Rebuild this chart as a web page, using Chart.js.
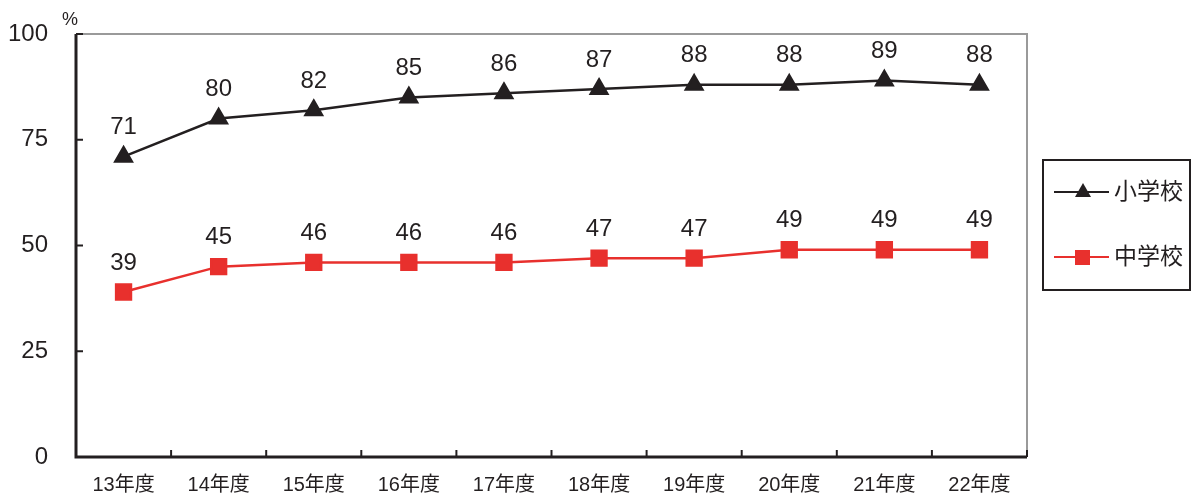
<!DOCTYPE html>
<html>
<head>
<meta charset="utf-8">
<script src="https://cdn.jsdelivr.net/npm/chart.js@4"></script>
<style>
  html, body { margin: 0; padding: 0; background: #fff; }
  #wrap { width: 1192px; height: 495px; position: relative; }
</style>
</head>
<body>
<div id="wrap"><canvas id="rateChart" width="1192" height="495"></canvas></div>
<script>
// chart values
const years = ['13年度', '14年度', '15年度', '16年度', '17年度', '18年度', '19年度', '20年度', '21年度', '22年度'];
const elementary = [71, 80, 82, 85, 86, 87, 88, 88, 89, 88];
const juniorHigh = [39, 45, 46, 46, 46, 47, 47, 49, 49, 49];
const yTicks = [0, 25, 50, 75, 100];
const seriesNames = ['小学校', '中学校'];

const FONT = "'Liberation Sans', 'Noto Sans CJK JP', Arial, sans-serif";
const RED = '#e8302d';

// frame, inward ticks, value labels, legend box
const decorations = {
    id: 'decorations',
    afterDatasetsDraw(chart) {
        const ctx = chart.ctx;
        const area = chart.chartArea;
        const x = chart.scales.x;
        const y = chart.scales.y;

        ctx.save();
        // top and right border (grey)
        ctx.strokeStyle = '#9a9a9a';
        ctx.lineWidth = 2;
        ctx.beginPath();
        ctx.moveTo(area.left, area.top);
        ctx.lineTo(area.right, area.top);
        ctx.lineTo(area.right, area.bottom);
        ctx.stroke();

        // left and bottom axes (black)
        ctx.strokeStyle = '#231f20';
        ctx.lineWidth = 3;
        ctx.beginPath();
        ctx.moveTo(area.left, area.top);
        ctx.lineTo(area.left, area.bottom);
        ctx.lineTo(area.right, area.bottom);
        ctx.stroke();

        // y tick marks pointing inward
        ctx.lineWidth = 2;
        yTicks.forEach(v => {
            const py = y.getPixelForValue(v);
            ctx.beginPath();
            ctx.moveTo(area.left, py);
            ctx.lineTo(area.left + 7, py);
            ctx.stroke();
        });

        // x tick marks between categories, pointing up
        for (let i = 1; i <= years.length; i++) {
            const px = (x.getPixelForValue(i - 1) + x.getPixelForValue(i)) / 2;
            const xx = i === years.length ? area.right : px;
            ctx.beginPath();
            ctx.moveTo(xx, area.bottom);
            ctx.lineTo(xx, area.bottom - 7);
            ctx.stroke();
        }

        // value labels above points
        ctx.fillStyle = '#231f20';
        ctx.font = '24px ' + FONT;
        ctx.textAlign = 'center';
        ctx.textBaseline = 'middle';
        chart.data.datasets.forEach(ds => {
            ds.data.forEach((v, i) => {
                const px = x.getPixelForValue(i);
                const py = y.getPixelForValue(v);
                ctx.fillText(String(v), px, py - 29);
            });
        });

        // unit label
        ctx.font = '18px ' + FONT;
        ctx.fillText('%', 70, 20);

        // legend box
        const lx = 1043, ly = 160, lw = 147, lh = 130;
        ctx.strokeStyle = '#231f20';
        ctx.lineWidth = 2;
        ctx.strokeRect(lx, ly, lw, lh);

        const rows = [ly + 32, ly + 97];
        chart.data.datasets.forEach((ds, i) => {
            const ry = rows[i];
            ctx.strokeStyle = ds.borderColor;
            ctx.lineWidth = 2;
            ctx.beginPath();
            ctx.moveTo(1054, ry);
            ctx.lineTo(1109, ry);
            ctx.stroke();
            ctx.fillStyle = ds.pointBackgroundColor;
            if (ds.pointStyle === 'triangle') {
                ctx.beginPath();
                ctx.moveTo(1083, ry - 9);
                ctx.lineTo(1091, ry + 5);
                ctx.lineTo(1075, ry + 5);
                ctx.closePath();
                ctx.fill();
            } else {
                ctx.fillRect(1075, ry - 7, 15, 15);
            }
            ctx.fillStyle = '#231f20';
            ctx.font = '23px ' + FONT;
            ctx.textAlign = 'left';
            ctx.fillText(ds.label, 1114, ry + 1);
        });
        ctx.restore();
    }
};

const ctx = document.getElementById('rateChart').getContext('2d');
new Chart(ctx, {
    type: 'line',
    data: {
        labels: years,
        datasets: [{
            label: seriesNames[0],
            data: elementary,
            borderColor: '#231f20',
            backgroundColor: '#231f20',
            pointBackgroundColor: '#231f20',
            pointBorderColor: '#231f20',
            pointStyle: 'triangle',
            pointRadius: 9.5,
            borderWidth: 2.5,
            tension: 0
        }, {
            label: seriesNames[1],
            data: juniorHigh,
            borderColor: RED,
            backgroundColor: RED,
            pointBackgroundColor: RED,
            pointBorderColor: RED,
            pointStyle: 'rect',
            pointRadius: 10.5,
            borderWidth: 2.5,
            tension: 0
        }]
    },
    options: {
        responsive: false,
        animation: false,
        devicePixelRatio: 1,
        layout: { padding: { left: 0, right: 165, top: 34, bottom: 0 } },
        plugins: {
            legend: { display: false },
            tooltip: { enabled: false },
            title: { display: false }
        },
        scales: {
            x: {
                offset: true,
                grid: { display: false, drawTicks: false, tickLength: 0 },
                border: { display: false },
                ticks: {
                    color: '#231f20',
                    font: { size: 20, family: FONT },
                    padding: 16,
                    maxRotation: 0
                },
                afterFit(scale) {
                    scale.height = 38;
                    scale.paddingLeft = 0;
                    scale.paddingRight = 0;
                }
            },
            y: {
                min: 0,
                max: 100,
                grid: { display: false, drawTicks: false, tickLength: 0 },
                border: { display: false },
                afterBuildTicks(scale) {
                    scale.ticks = yTicks.map(v => ({ value: v }));
                },
                ticks: {
                    color: '#231f20',
                    font: { size: 24, family: FONT },
                    padding: 28
                },
                afterFit(scale) {
                    scale.width = 76;
                    scale.paddingTop = 0;
                    scale.paddingBottom = 0;
                }
            }
        }
    },
    plugins: [decorations]
});
</script>
</body>
</html>
